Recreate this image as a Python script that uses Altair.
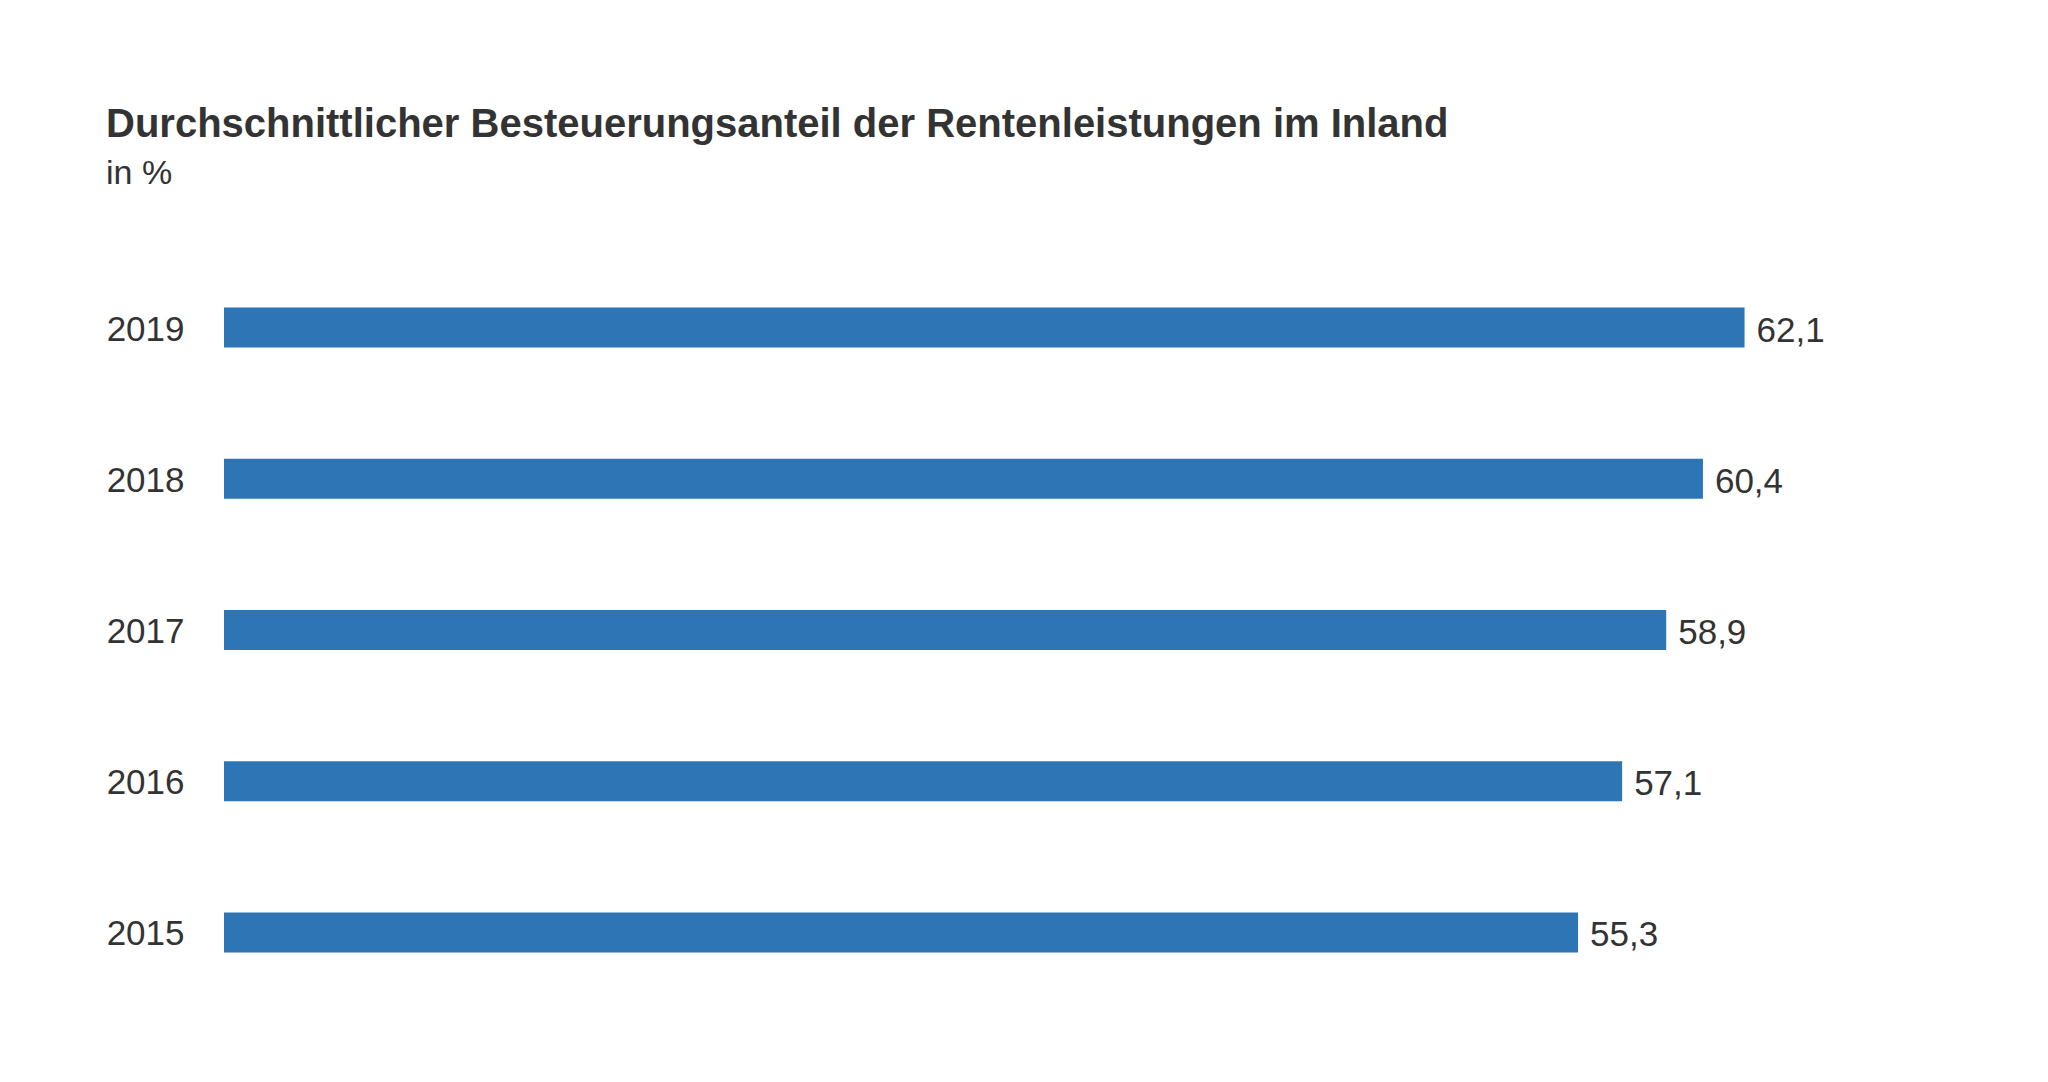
import altair as alt
import pandas as pd

years = ["2019", "2018", "2017", "2016", "2015"]
values = [62.1, 60.4, 58.9, 57.1, 55.3]

df = pd.DataFrame({"year": years, "value": values})

FONT = "Liberation Sans"
TEXT = "#333333"
BLUE = "#2E75B6"

base = alt.Chart(df).encode(
    y=alt.Y(
        "year:N",
        sort=years,
        title=None,
        scale=alt.Scale(paddingInner=0.7355, paddingOuter=0.3677),
        axis=alt.Axis(
            domain=False, ticks=False, tickSize=0, labelPadding=40,
            labelOffset=2,
            labelFont=FONT, labelFontSize=35, labelColor=TEXT, grid=False,
        ),
    ),
    x=alt.X("value:Q", title=None, axis=None,
            scale=alt.Scale(domain=[0, 70], nice=False, zero=True)),
)

bars = base.mark_bar(color=BLUE)
labels = base.transform_calculate(
    lbl="replace(format(datum.value, '.1f'), '.', ',')"
).mark_text(
    align="left", baseline="middle", dx=12, dy=3,
    font=FONT, fontSize=35, color=TEXT,
).encode(text="lbl:N")

chart = (bars + labels).properties(
    width=1714,
    height=756,
    background="white",
    title=alt.TitleParams(
        text="Durchschnittlicher Besteuerungsanteil der Rentenleistungen im Inland",
        subtitle="in %",
        anchor="start",
        frame="group",
        dx=-118,
        offset=61,
        font=FONT,
        fontSize=40,
        fontWeight="bold",
        color=TEXT,
        subtitleFont=FONT,
        subtitleFontSize=34,
        subtitleColor=TEXT,
        subtitlePadding=12,
    ),
    autosize=alt.AutoSizeParams(type="none"),
    padding={"left": 216, "top": 244, "right": 100, "bottom": 60},
).configure_view(strokeWidth=0, stroke=None)

chart.save("out.html", embed_options={"renderer": "svg", "actions": False})
